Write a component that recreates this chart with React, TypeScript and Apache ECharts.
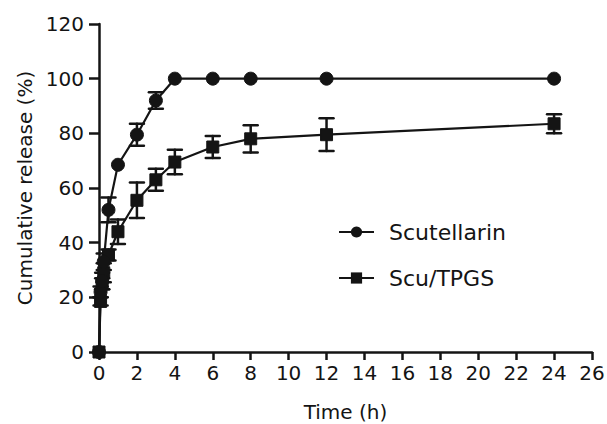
import React, { useEffect, useRef } from "react";
import * as echarts from "echarts";

const timeH = [0, 0.083, 0.167, 0.25, 0.5, 1, 2, 3, 4, 6, 8, 12, 24];
const scutMean = [0, 22, 26, 33, 52, 68.5, 79.5, 92, 100, 100, 100, 100, 100];
const scutErr = [0, 2, 3, 3, 4.5, 0, 4, 3, 0, 0, 0, 0, 0];
const tpgsMean = [0, 18.5, 25, 29, 35.5, 44, 55.5, 63, 69.5, 75, 78, 79.5, 83.5];
const tpgsErr = [0, 1.5, 2, 3.5, 2, 4.5, 6.5, 4, 4.5, 4, 5, 6, 3.5];
const xTicks = [0, 26, 2];
const yTicks = [0, 120, 20];
const seriesNames = ["Scutellarin", "Scu/TPGS"];
const axisTitles = ["Time (h)", "Cumulative release (%)"];

const INK = "#141414";
const FONT = "DejaVu Sans";

function errData(mean: number[], err: number[]) {
  const out: number[][] = [];
  timeH.forEach((t, i) => {
    if (err[i] > 0) out.push([t, mean[i] - err[i], mean[i] + err[i]]);
  });
  return out;
}

function errRender(params: any, api: any) {
  const x = api.value(0);
  const lo = api.value(1);
  const hi = api.value(2);
  const p1 = api.coord([x, hi]);
  const p2 = api.coord([x, lo]);
  const hw = 7;
  const style = { stroke: INK, lineWidth: 2.5, lineCap: "round" };
  return {
    type: "group",
    children: [
      { type: "line", shape: { x1: p1[0], y1: p1[1], x2: p2[0], y2: p2[1] }, style },
      { type: "line", shape: { x1: p1[0] - hw, y1: p1[1], x2: p1[0] + hw, y2: p1[1] }, style },
      { type: "line", shape: { x1: p2[0] - hw, y1: p2[1], x2: p2[0] + hw, y2: p2[1] }, style },
    ],
  };
}

export default function App() {
  const ref = useRef<HTMLDivElement>(null);
  useEffect(() => {
    if (!ref.current) return;
    const chart = echarts.init(ref.current, null, { renderer: "svg" });
    const axisLine = { show: true, lineStyle: { color: INK, width: 2.5 } };
    const axisTick = { show: true, inside: false, length: 8, lineStyle: { color: INK, width: 2.5 } };
    chart.setOption({
      animation: false,
      backgroundColor: "#ffffff",
      grid: { left: 99, right: 15, top: 24, bottom: 72, outerBoundsMode: "none", containLabel: false },
      xAxis: {
        type: "value",
        min: xTicks[0],
        max: xTicks[1],
        interval: xTicks[2],
        name: axisTitles[0],
        nameLocation: "middle",
        nameGap: 50,
        nameTextStyle: { fontFamily: FONT, fontSize: 20, color: INK },
        axisLine,
        axisTick,
        splitLine: { show: false },
        axisLabel: { margin: 11, fontFamily: FONT, fontSize: 20, color: INK },
      },
      yAxis: {
        type: "value",
        min: yTicks[0],
        max: yTicks[1],
        interval: yTicks[2],
        name: axisTitles[1],
        nameLocation: "middle",
        nameGap: 62,
        nameRotate: 90,
        nameTextStyle: { fontFamily: FONT, fontSize: 20, color: INK },
        axisLine,
        axisTick: { ...axisTick, length: 10 },
        splitLine: { show: false },
        axisLabel: { margin: 15, fontFamily: FONT, fontSize: 20, color: INK },
      },
      legend: {
        data: seriesNames,
        orient: "vertical",
        left: 333,
        top: 216,
        itemWidth: 35,
        itemHeight: 14,
        itemGap: 24,
        textStyle: { fontFamily: FONT, fontSize: 22, color: INK, padding: [0, 0, 0, 10] },
      },
      series: [
        {
          name: seriesNames[1],
          type: "line",
          data: timeH.map((t, i) => [t, tpgsMean[i]]),
          symbol: "rect",
          symbolSize: 12,
          lineStyle: { color: INK, width: 2.2 },
          itemStyle: { color: INK, borderColor: INK },
          z: 3,
        },
        {
          name: seriesNames[0],
          type: "line",
          data: timeH.map((t, i) => [t, scutMean[i]]),
          symbol: "circle",
          symbolSize: 13,
          lineStyle: { color: INK, width: 2.2 },
          itemStyle: { color: INK, borderColor: INK },
          z: 3,
        },
        {
          type: "custom",
          data: errData(scutMean, scutErr),
          renderItem: errRender,
          encode: { x: 0, y: [1, 2] },
          z: 2,
        },
        {
          type: "custom",
          data: errData(tpgsMean, tpgsErr),
          renderItem: errRender,
          encode: { x: 0, y: [1, 2] },
          z: 2,
        },
      ],
    });
    return () => chart.dispose();
  }, []);
  return (
    <div
      ref={ref}
      style={{ position: "fixed", left: 0, top: 0, width: 607, height: 424, background: "#fff" }}
    />
  );
}
